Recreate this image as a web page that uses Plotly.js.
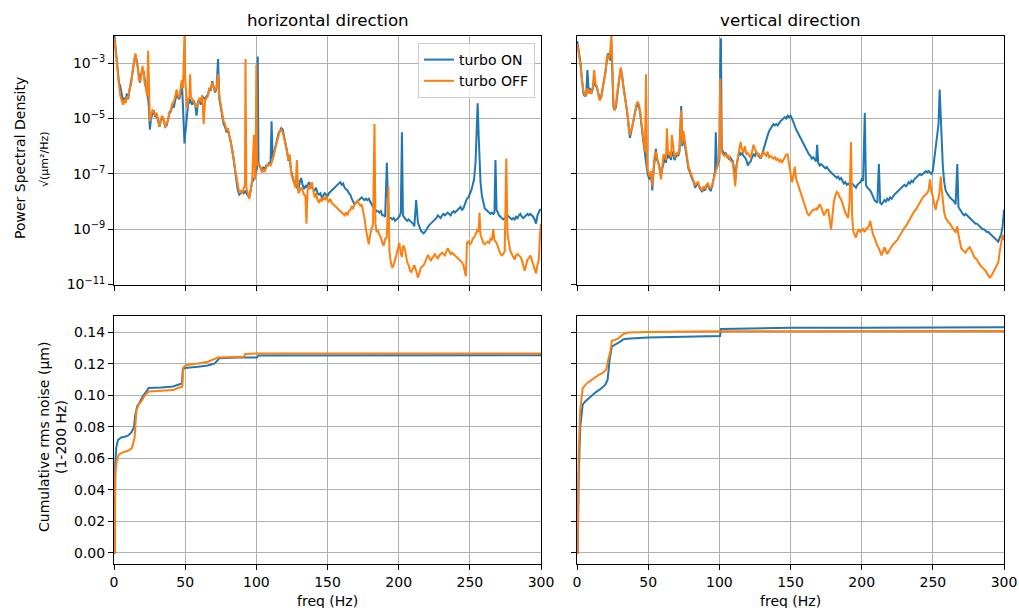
<!DOCTYPE html>
<html>
<head>
<meta charset="utf-8">
<script src="https://cdn.plot.ly/plotly-3.0.1.min.js"></script>
<style>html,body{margin:0;padding:0;background:#fff;}#chart{width:1019px;height:608px;}</style>
</head>
<body>
<div id="chart"></div>
<script>
// ---------- DATA ----------
// PSD values are stored as log10 exponents (value = 10^exp)
const hFreq = [0.3,0.8,1.5,2.5,3.5,4.5,5.5,6.4,7.3,8.2,
 9,10,11,12,13,14,15,16,16.8,17.5,
 18.2,19,20,20.8,21.7,22.5,23.3,24,24.5,25.2,
 26,27,28,29,30,31,32,33,34,35,
 36,37,38,39,40,41,42,43,44,45,
 46,47,47.7,48.5,49,49.5,50,50.6,51.3,52,
 53,53.5,54,55,56,57,58,59,60,61,
 62,63,64,65,66,67,68,69,70,71,
 72,73.1,74,75,76,77,78,79,80,81,
 82,83,84,85,86,87,88,89,90,91,
 92,92.4,93,94,95,96,97,98.3,99,99.5,
 100,100.5,101,101.5,102,103,104,105,106,107,
 108,109,110,110.7,111.5,112.5,113.5,114.5,115.5,116.5,
 117.5,118.5,119.5,120.5,121.5,122.5,123.5,124.5,125.5,126.5,
 127.5,128.5,129.5,130.5,131.5,132.5,133.5,134.5,135.2,136,
 137,138,139,140,141,142,143,144,145,146,
 147,148,149,150,151,152,153,154,155,156,
 157,158,159,160,161,162,163,164,165,166,
 167,168,169,170,171,172,173,174,175,176,
 177,178,179,180,181,182,183,183.7,184.5,185.5,
 186.5,187.5,188.5,189.5,190.5,191.7,192.8,193.5,194.5,195.5,
 196.5,197.5,198.5,199.5,200.5,201.5,202.3,203,204,205,
 206,207,208,209,210,211,212.3,213.5,214.5,215.5,
 216.5,217.5,218.5,219.5,220.5,221.5,222.5,223.5,224.5,225.5,
 226.5,227.5,228.5,229.5,230.5,231.5,232.5,233.5,234.5,235.5,
 236.5,237.5,238.5,239.5,240.5,241.5,242.5,243.5,244.5,245.5,
 246.5,247.2,248,249,250,251,252,253,254,254.8,
 255.5,256.2,256.8,257.5,258.5,259.5,260.5,261.5,262.5,263.5,
 264.5,265.5,266.5,267.3,268,268.8,269.5,270.5,271.5,272.5,
 273.5,274.5,275.6,276.5,277.5,278.5,279.5,280.5,281.5,282.5,
 283.5,284.5,285.5,286.5,287.5,288.5,289.5,290.5,291.5,292.5,
 293.5,294.5,295.5,296.5,297.5,298.5,299.3,300];
const hOnExp = [-2.0,-2.3,-2.8,-3.3,-3.7,-3.85,-4.2,-4.4,-4.25,-4.35,
 -4.1,-4.3,-3.95,-3.7,-3.35,-3.0,-2.7,-2.9,-3.2,-3.5,
 -3.7,-3.45,-3.2,-3.3,-3.75,-3.9,-4.1,-4.3,-4.6,-5.4,
 -5.0,-4.8,-4.7,-4.95,-4.85,-5.1,-5.3,-5.05,-4.95,-5.1,
 -5.3,-5.25,-5.0,-4.8,-4.75,-4.5,-4.6,-4.3,-4.1,-4.25,
 -4.3,-4.0,-3.7,-4.6,-5.5,-5.9,-5.6,-5.3,-4.7,-4.5,
 -4.4,-4.3,-4.4,-4.5,-4.35,-4.5,-4.9,-4.4,-4.3,-4.5,
 -4.2,-4.25,-4.3,-4.2,-4.15,-3.9,-4.0,-3.65,-3.9,-4.05,
 -3.95,-2.85,-4.3,-4.6,-4.8,-5.2,-5.3,-5.5,-5.4,-5.7,
 -5.85,-6.1,-6.5,-6.9,-7.2,-7.6,-7.75,-7.7,-7.6,-7.7,
 -7.65,-7.6,-7.7,-7.8,-7.85,-7.6,-7.3,-7.2,-7.1,-7.0,
 -6.9,-6.8,-2.76,-6.6,-6.7,-6.8,-6.9,-6.75,-6.85,-6.7,
 -6.7,-6.6,-6.6,-5.1,-6.45,-6.2,-6.0,-5.75,-5.55,-5.45,
 -5.35,-5.4,-5.65,-5.8,-6.15,-6.5,-6.5,-6.9,-7.1,-7.3,
 -7.35,-7.5,-7.6,-7.3,-7.15,-7.4,-7.55,-7.45,-7.5,-7.4,
 -7.3,-7.45,-7.5,-7.55,-7.6,-7.5,-7.7,-7.75,-7.7,-7.85,
 -7.8,-7.7,-7.75,-7.8,-7.7,-7.65,-7.6,-7.55,-7.5,-7.45,
 -7.4,-7.35,-7.3,-7.4,-7.35,-7.5,-7.55,-7.6,-7.7,-7.75,
 -7.9,-8.0,-8.1,-8.05,-8.0,-7.95,-7.9,-7.85,-7.9,-7.95,
 -7.9,-7.95,-7.9,-8.0,-8.15,-8.2,-8.25,-8.3,-8.35,-8.35,
 -8.4,-8.35,-8.5,-8.5,-8.55,-6.6,-8.5,-8.6,-8.6,-8.65,
 -8.6,-8.7,-8.65,-8.6,-8.55,-8.4,-5.5,-8.5,-8.6,-8.65,
 -8.7,-8.65,-8.7,-8.75,-8.8,-8.9,-7.95,-8.75,-8.9,-9.05,
 -9.1,-9.15,-9.1,-9.0,-8.9,-8.85,-8.8,-8.75,-8.7,-8.65,
 -8.6,-8.5,-8.55,-8.6,-8.5,-8.45,-8.5,-8.45,-8.4,-8.45,
 -8.5,-8.4,-8.35,-8.4,-8.35,-8.3,-8.25,-8.2,-8.3,-8.25,
 -8.1,-8.0,-7.9,-7.85,-7.75,-7.6,-7.4,-7.2,-6.6,-5.5,
 -4.45,-5.6,-6.5,-7.3,-7.8,-8.1,-8.25,-8.3,-8.35,-8.4,
 -8.45,-8.4,-8.45,-8.4,-6.5,-8.3,-8.4,-8.5,-8.55,-8.6,
 -8.65,-8.6,-8.55,-8.5,-8.55,-8.6,-8.65,-8.6,-8.65,-8.55,
 -8.6,-8.5,-8.45,-8.55,-8.6,-8.55,-8.5,-8.45,-8.5,-8.45,
 -8.5,-8.55,-8.65,-8.8,-8.5,-8.4,-8.3,-8.3];
const hOffExp = [-2.1,-2.4,-2.9,-3.4,-3.8,-4.2,-4.4,-4.5,-4.3,-4.45,
 -4.2,-4.25,-3.9,-3.8,-3.3,-2.95,-2.65,-3.0,-3.15,-3.6,
 -3.65,-3.5,-3.1,-3.35,-3.8,-3.85,-4.2,-2.55,-4.4,-5.1,
 -4.9,-4.7,-4.75,-4.9,-4.8,-5.0,-5.3,-5.0,-4.9,-5.05,
 -5.3,-5.2,-5.05,-4.75,-4.7,-4.45,-4.4,-4.2,-3.95,-4.2,
 -4.25,-3.8,-3.6,-3.9,-3.2,-1.9,-3.5,-4.2,-4.6,-4.3,
 -4.25,-3.4,-4.2,-4.3,-4.4,-4.5,-4.6,-4.4,-4.25,-4.4,
 -4.15,-5.2,-4.35,-4.25,-4.2,-3.9,-3.95,-3.7,-3.85,-4.0,
 -3.9,-3.4,-4.2,-4.6,-4.8,-5.1,-5.2,-5.4,-5.35,-5.6,
 -5.8,-6.2,-6.4,-6.8,-7.1,-7.5,-7.7,-7.6,-7.7,-7.55,
 -7.4,-2.85,-7.5,-7.7,-7.9,-7.6,-7.3,-5.6,-7.2,-6.9,
 -3.06,-6.7,-6.6,-6.7,-6.7,-6.75,-6.95,-6.85,-6.9,-6.75,
 -6.7,-6.65,-6.7,-6.6,-6.5,-6.25,-6.05,-5.8,-5.6,-5.45,
 -5.4,-5.5,-5.7,-5.9,-6.2,-6.5,-6.3,-7.0,-7.15,-7.3,
 -7.5,-6.5,-7.7,-7.6,-7.5,-7.6,-7.75,-7.8,-8.8,-7.6,
 -7.4,-7.55,-7.3,-7.6,-7.85,-7.7,-7.95,-8.05,-7.9,-8.0,
 -7.85,-7.95,-7.8,-7.95,-8.0,-7.9,-8.05,-8.1,-8.15,-8.2,
 -8.25,-8.3,-8.35,-8.4,-8.45,-8.5,-8.4,-8.5,-8.35,-8.3,
 -8.2,-8.25,-8.1,-8.05,-7.95,-8.05,-8.15,-8.1,-8.3,-8.6,
 -9.0,-9.3,-9.55,-9.2,-9.0,-8.8,-5.2,-8.8,-9.1,-9.05,
 -9.2,-9.3,-9.5,-9.6,-9.35,-9.3,-7.45,-9.8,-10.2,-10.4,
 -10.3,-10.1,-9.9,-9.6,-9.5,-9.9,-10.0,-9.6,-9.65,-9.9,
 -10.2,-10.3,-10.5,-10.55,-10.4,-10.3,-10.5,-10.75,-10.6,-10.4,
 -10.35,-10.3,-10.2,-10.1,-9.95,-10.0,-10.15,-10.05,-9.95,-9.9,
 -10.0,-10.05,-9.95,-9.9,-9.85,-9.9,-9.95,-9.8,-9.7,-9.8,
 -9.9,-9.85,-9.9,-9.95,-10.0,-10.05,-10.1,-10.15,-10.2,-10.3,
 -10.5,-10.7,-9.5,-9.45,-9.55,-9.5,-9.35,-9.3,-9.2,-9.1,
 -9.0,-9.1,-8.4,-9.2,-9.4,-9.5,-9.55,-9.5,-9.45,-9.5,
 -9.35,-9.4,-9.0,-9.4,-9.45,-9.5,-9.6,-9.75,-9.9,-9.95,
 -9.9,-9.8,-6.45,-9.2,-9.5,-9.8,-9.9,-10.0,-10.1,-9.95,
 -9.9,-9.95,-10.0,-10.1,-10.3,-10.5,-10.3,-10.1,-10.05,-9.95,
 -10.1,-10.3,-10.5,-10.6,-10.3,-10.1,-9.2,-8.8];

const vFreq = [0.2,0.8,1.5,2.5,3.5,4.5,5.5,6.5,7.3,8.2,
 9,10,11,12,13,14,15,16,17,18,
 19,20,21,21.7,22.5,23.3,24.2,24.9,25.6,26.5,
 27.3,28.2,29,30,30.8,31.6,32.5,33.5,34.5,35.5,
 36.5,37.2,38,39,40,40.8,41.7,42.6,43.5,44.3,
 45.2,46.1,47,47.8,48.5,49.3,50.2,51.1,52,52.9,
 53.8,54.6,55.4,56.3,57.2,58.1,59,60,60.8,61.7,
 62.5,63.2,64,65,66,66.7,67.6,68.5,69.3,70.2,
 71.1,72,73.2,74,74.8,75.7,76.5,77.3,78.2,79,
 80,81,82,83,84,85,86,87,88,89,
 90,91,92,93,94,95,96,97,97.5,98.3,
 99.2,100,100.6,101.1,101.7,102.5,103.5,104.5,105.5,106.5,
 107.5,108.5,109.5,110.5,111.2,112,113,114,115,116,
 117,118,119,120,121,122,123,124,125,126,
 127,128,129,130,131,132,133,134,135,136,
 137,138,139,140,141,142,143,144,145,146,
 147,148,149,150,151,152,153,154,155,156,
 157,158,159,160,161,162,163,164,165,166,
 167,168,168.7,169.5,170.5,171.5,172.5,173.5,174.5,175.5,
 176.5,177.5,178.5,179.5,180.5,181.5,182.5,183.5,184.5,185.5,
 186.5,187.5,188.5,189.5,190.5,191.5,192.5,193.3,194,195,
 196,197,198,199,200,201,202.2,203,204,205,
 206,207,208,209,210,211,212.1,213,214,215,
 216,217,218,219,220,221,222,223,224,225,
 226,227,228,229,230,231,232,233,234,235,
 236,237,238,239,240,241,242,243,244,245,
 246,247,248,249,250,251,252,253,254,254.8,
 255.6,256.3,257,258,259,260,261,262,263,264,
 265,266,267.2,268,269,270,271,272,273,274,
 275,276,277,278,279,280,281,282,283,284,
 285,286,287,288,289,290,291,292,293,294,
 295,296,297,298,299,300];
const vOnExp = [-2.2,-2.4,-2.6,-3.0,-3.6,-4.1,-4.2,-4.1,-3.25,-4.0,
 -3.9,-4.1,-3.95,-3.6,-3.8,-3.9,-4.1,-4.3,-4.2,-3.9,
 -3.7,-3.3,-2.9,-2.65,-2.75,-2.9,-2.3,-3.9,-4.6,-4.7,
 -4.6,-4.2,-3.8,-3.45,-3.2,-3.4,-3.8,-4.1,-4.5,-4.9,
 -5.4,-5.7,-5.5,-5.3,-5.0,-4.75,-4.6,-4.4,-4.6,-4.75,
 -5.2,-5.7,-6.0,-6.3,-6.6,-6.9,-7.1,-7.2,-7.0,-7.6,
 -6.9,-6.4,-6.1,-6.5,-6.6,-6.8,-7.1,-6.8,-6.6,-6.4,
 -6.6,-6.3,-6.4,-6.35,-6.5,-6.2,-6.3,-6.5,-6.4,-6.3,
 -6.35,-6.2,-4.55,-6.0,-5.7,-5.9,-6.2,-6.5,-6.8,-6.9,
 -7.1,-7.2,-7.3,-7.5,-7.4,-7.35,-7.5,-7.6,-7.65,-7.5,
 -7.6,-7.45,-7.4,-7.55,-7.6,-7.45,-7.2,-6.9,-5.5,-6.8,
 -6.6,-6.5,-3.2,-2.1,-6.1,-6.2,-6.3,-6.25,-6.35,-6.45,
 -6.4,-6.5,-6.55,-6.9,-7.2,-6.7,-6.4,-6.2,-6.3,-6.25,
 -6.35,-6.4,-6.5,-6.7,-6.6,-6.55,-6.4,-6.3,-6.35,-6.2,
 -6.3,-6.4,-6.45,-6.3,-6.1,-5.95,-5.75,-5.6,-5.45,-5.35,
 -5.25,-5.2,-5.25,-5.2,-5.25,-5.15,-5.1,-5.05,-5.0,-4.95,
 -5.0,-4.9,-4.95,-4.9,-5.0,-5.15,-5.3,-5.4,-5.5,-5.6,
 -5.75,-5.8,-5.9,-6.0,-6.1,-6.2,-6.3,-6.35,-6.45,-6.4,
 -6.5,-6.55,-5.95,-6.6,-6.7,-6.65,-6.7,-6.75,-6.8,-6.75,
 -6.85,-6.9,-6.95,-7.0,-7.05,-7.1,-7.15,-7.1,-7.2,-7.15,
 -7.25,-7.35,-7.3,-7.4,-7.35,-7.4,-7.3,-7.35,-7.4,-7.45,
 -7.5,-7.4,-7.35,-7.3,-7.2,-7.25,-4.8,-7.4,-7.5,-7.55,
 -7.6,-7.7,-7.85,-7.95,-8.0,-8.05,-6.65,-8.05,-8.1,-8.0,
 -7.95,-8.0,-7.9,-7.95,-7.85,-7.9,-7.8,-7.75,-7.7,-7.65,
 -7.6,-7.55,-7.5,-7.45,-7.4,-7.45,-7.4,-7.3,-7.35,-7.25,
 -7.3,-7.2,-7.15,-7.1,-7.05,-7.0,-7.05,-7.0,-6.95,-6.9,
 -6.95,-6.9,-6.95,-7.0,-6.9,-6.5,-6.1,-5.7,-5.2,-3.95,
 -4.9,-5.9,-6.7,-7.3,-7.6,-7.7,-7.8,-7.85,-7.9,-7.95,
 -8.0,-8.1,-6.65,-8.2,-8.3,-8.4,-8.45,-8.5,-8.45,-8.5,
 -8.55,-8.6,-8.65,-8.7,-8.75,-8.8,-8.8,-8.85,-8.9,-8.95,
 -9.0,-9.0,-9.05,-9.1,-9.1,-9.15,-9.2,-9.25,-9.3,-9.35,
 -9.4,-9.45,-9.3,-9.2,-8.9,-8.3];
const vOffExp = [-2.3,-2.5,-2.7,-3.1,-3.6,-4.0,-4.15,-4.2,-3.9,-4.1,
 -4.0,-4.05,-3.9,-3.25,-3.75,-3.85,-4.15,-4.35,-4.25,-3.9,
 -3.6,-3.35,-2.8,-2.7,-2.85,-2.6,-1.95,-3.8,-4.5,-4.7,
 -4.5,-4.1,-3.75,-3.4,-3.15,-3.5,-3.75,-4.15,-4.5,-4.85,
 -5.4,-5.6,-5.4,-5.3,-4.95,-4.8,-4.5,-4.4,-4.5,-4.7,
 -5.1,-5.6,-5.9,-6.2,-3.4,-6.8,-7.0,-7.1,-6.9,-7.45,
 -6.8,-6.3,-6.2,-6.4,-6.55,-6.85,-7.2,-6.7,-6.3,-6.35,
 -6.5,-5.35,-6.3,-6.25,-6.4,-5.6,-6.1,-6.4,-6.3,-6.25,
 -6.3,-6.1,-4.7,-5.9,-5.45,-5.8,-6.1,-6.4,-6.7,-6.85,
 -7.0,-7.15,-7.25,-7.4,-7.35,-7.3,-7.45,-7.55,-7.6,-7.45,
 -7.55,-7.4,-7.35,-7.5,-7.5,-7.4,-7.15,-7.0,-6.9,-6.75,
 -6.55,-6.4,-3.55,-5.8,-6.2,-6.3,-6.35,-6.3,-6.4,-6.35,
 -6.5,-6.55,-6.6,-7.1,-7.45,-6.8,-6.4,-6.1,-5.85,-6.15,
 -6.2,-6.0,-6.3,-6.25,-6.35,-6.4,-6.2,-5.95,-6.1,-6.25,
 -6.35,-6.3,-6.4,-6.35,-6.2,-6.3,-6.35,-6.2,-6.4,-6.35,
 -6.4,-6.45,-6.4,-6.5,-6.45,-6.55,-6.5,-6.6,-6.5,-6.4,
 -6.3,-6.3,-6.6,-6.95,-7.3,-7.1,-6.75,-7.2,-7.4,-7.5,
 -7.65,-7.8,-8.0,-8.15,-8.3,-8.45,-8.5,-8.4,-8.35,-8.3,
 -8.3,-8.25,-8.3,-8.2,-8.1,-8.2,-8.35,-8.5,-8.4,-8.3,
 -8.3,-8.6,-9.0,-8.5,-8.0,-7.8,-7.65,-7.7,-7.85,-7.9,
 -8.1,-8.3,-8.4,-8.5,-8.6,-8.0,-5.85,-8.5,-9.05,-9.2,
 -9.3,-9.1,-9.0,-9.1,-9.05,-9.0,-9.1,-9.0,-8.95,-8.9,
 -8.7,-9.0,-9.2,-9.3,-9.5,-9.6,-9.7,-9.85,-9.95,-9.8,
 -9.65,-9.8,-9.9,-9.8,-9.7,-9.6,-9.55,-9.5,-9.45,-9.4,
 -9.3,-9.2,-9.15,-9.0,-8.95,-8.9,-8.8,-8.7,-8.6,-8.55,
 -8.4,-8.35,-8.3,-8.2,-8.1,-8.0,-7.9,-7.85,-7.8,-7.75,
 -7.7,-7.6,-7.2,-7.65,-7.8,-8.1,-8.3,-8.0,-7.9,-7.6,
 -7.1,-7.6,-8.0,-8.4,-8.6,-8.7,-8.75,-8.8,-8.9,-9.0,
 -9.05,-9.1,-8.9,-9.2,-9.5,-9.7,-9.75,-9.8,-9.85,-9.75,
 -9.7,-9.65,-9.75,-9.9,-10.0,-10.05,-10.1,-10.2,-10.3,-10.35,
 -10.4,-10.45,-10.5,-10.6,-10.7,-10.75,-10.7,-10.6,-10.5,-10.4,
 -10.3,-10.2,-9.8,-9.5,-9.2,-9.4];

// cumulative rms noise (µm)
const cumHOnFreq  = [0,0.5,0.9,1.6,2.8,5.1,7.5,9.8,12.2,14,15,16.4,18,20.4,22.7,24.3,33.2,41.4,45,47.7,48.4,49.6,59,66,70.7,74.2,87,100.4,101.6,150,200,250,300];
const cumHOn      = [0,0,0.0563,0.067,0.0716,0.0733,0.0737,0.0744,0.0765,0.0797,0.088,0.0934,0.0955,0.0998,0.1025,0.1047,0.1051,0.1057,0.1068,0.1076,0.1167,0.1174,0.1182,0.119,0.1203,0.1237,0.1241,0.1241,0.1254,0.1255,0.1255,0.1256,0.1256];
const cumHOffFreq = [0,0.5,0.9,1.9,3.3,6.3,9.8,12.6,14.5,15.7,17.3,19.2,21.5,24.3,33.2,41.4,45,48,48.7,50.8,59,66,73,91.3,92.2,101,150,200,250,300];
const cumHOff     = [0,0,0.05,0.0585,0.0623,0.0638,0.0648,0.0665,0.0733,0.0903,0.0941,0.0962,0.0998,0.1025,0.103,0.1034,0.1047,0.1055,0.1178,0.1193,0.1203,0.1214,0.1241,0.1246,0.1263,0.1267,0.1267,0.1267,0.1267,0.1267];
const cumVOnFreq  = [0,0.5,1.2,2.3,4,5.8,9.3,12.9,16.4,19.9,21.5,22.9,24.5,28,30.4,32.7,37.4,50,65.4,98.1,100.5,101.2,150,200,250,300];
const cumVOn      = [0,0,0.0486,0.0803,0.0941,0.0962,0.099,0.1019,0.104,0.1068,0.11,0.1226,0.1311,0.1328,0.1342,0.1357,0.1362,0.1368,0.137,0.1376,0.1378,0.1423,0.143,0.1431,0.1432,0.1433];
const cumVOffFreq = [0,0.5,1.2,2.3,4,7,10.5,15.2,18.7,20.6,22.2,23.4,24.5,26.9,29.2,32.7,36.2,50,100.5,159,300];
const cumVOff     = [0,0,0.0655,0.0909,0.1046,0.1078,0.11,0.1131,0.1146,0.1167,0.1237,0.1279,0.1349,0.1353,0.1364,0.1391,0.14,0.1404,0.1408,0.1409,0.141];

const seriesNames = ['turbo ON', 'turbo OFF'];
const panelTitles = ['horizontal direction', 'vertical direction'];
const xTicks = [0, 50, 100, 150, 200, 250, 300];
const psdTickExp = [-11, -9, -7, -5, -3];
const cumTicks = [0, 0.02, 0.04, 0.06, 0.08, 0.10, 0.12, 0.14];

// ---------- STYLE ----------
const BLUE = '#1f77b4', ORANGE = '#ff7f0e';
const FONT = 'DejaVu Sans, Liberation Sans, sans-serif';
const pow10 = a => a.map(e => Math.pow(10, e));

function line(x, y, color, name, xa, ya, show) {
  return {x: x, y: y, type: 'scatter', mode: 'lines', name: name,
    line: {color: color, width: 2}, xaxis: xa, yaxis: ya,
    showlegend: show, hoverinfo: 'skip'};
}

const traces = [
  line(hFreq, pow10(hOnExp), BLUE, seriesNames[0], 'x', 'y', true),
  line(hFreq, pow10(hOffExp), ORANGE, seriesNames[1], 'x', 'y', true),
  line(vFreq, pow10(vOnExp), BLUE, seriesNames[0], 'x2', 'y2', false),
  line(vFreq, pow10(vOffExp), ORANGE, seriesNames[1], 'x2', 'y2', false),
  line(cumHOnFreq, cumHOn, BLUE, seriesNames[0], 'x3', 'y3', false),
  line(cumHOffFreq, cumHOff, ORANGE, seriesNames[1], 'x3', 'y3', false),
  line(cumVOnFreq, cumVOn, BLUE, seriesNames[0], 'x4', 'y4', false),
  line(cumVOffFreq, cumVOff, ORANGE, seriesNames[1], 'x4', 'y4', false)
];

const W = 1019, H = 608;
const px = v => v / W, py = v => 1 - v / H;
const colL = [px(114), px(541)], colR = [px(577), px(1004)];
const rowT = [py(284.5), py(35.5)], rowB = [py(564), py(316)];

function baseAxis(extra) {
  return Object.assign({
    showline: true, mirror: true, linecolor: '#000', linewidth: 1,
    ticks: 'outside', ticklen: 5, tickwidth: 1, tickcolor: '#000',
    showgrid: true, gridcolor: '#b0b0b0', gridwidth: 1, zeroline: false,
    tickfont: {family: FONT, size: 14, color: '#000'}, fixedrange: true
  }, extra);
}
const xCommon = {range: [0, 300], tickmode: 'array', tickvals: xTicks, ticktext: xTicks.map(String)};
const psdY = {type: 'log', range: [-11, -2], tickmode: 'array',
  tickvals: psdTickExp.map(e => Math.pow(10, e)),
  ticktext: psdTickExp.map(e => '10<sup>\u2212' + Math.abs(e) + '</sup>')};
const cumY = {range: [-0.0072, 0.1505], tickmode: 'array', tickvals: cumTicks,
  ticktext: cumTicks.map(v => v.toFixed(2))};

const layout = {
  width: W, height: H, margin: {l: 0, r: 0, t: 0, b: 0},
  paper_bgcolor: '#fff', plot_bgcolor: '#fff',
  font: {family: FONT, size: 14, color: '#000'},
  xaxis:  baseAxis(Object.assign({domain: colL, anchor: 'y',  showticklabels: false}, xCommon)),
  xaxis2: baseAxis(Object.assign({domain: colR, anchor: 'y2', showticklabels: false}, xCommon)),
  xaxis3: baseAxis(Object.assign({domain: colL, anchor: 'y3'}, xCommon)),
  xaxis4: baseAxis(Object.assign({domain: colR, anchor: 'y4'}, xCommon)),
  yaxis:  baseAxis(Object.assign({domain: rowT, anchor: 'x'}, psdY)),
  yaxis2: baseAxis(Object.assign({domain: rowT, anchor: 'x2', showticklabels: false}, psdY)),
  yaxis3: baseAxis(Object.assign({domain: rowB, anchor: 'x3'}, cumY)),
  yaxis4: baseAxis(Object.assign({domain: rowB, anchor: 'x4', showticklabels: false}, cumY)),
  showlegend: true,
  legend: {x: px(535), xanchor: 'right', y: py(43), yanchor: 'top',
    bgcolor: 'rgba(255,255,255,0.8)', bordercolor: '#cccccc', borderwidth: 1,
    font: {family: FONT, size: 14, color: '#000'}, tracegroupgap: 0},
  annotations: [
    {text: panelTitles[0], xref: 'paper', yref: 'paper', x: px(327.5), y: py(20), showarrow: false,
      font: {family: FONT, size: 16.7, color: '#000'}, xanchor: 'center', yanchor: 'middle'},
    {text: panelTitles[1], xref: 'paper', yref: 'paper', x: px(790.5), y: py(20), showarrow: false,
      font: {family: FONT, size: 16.7, color: '#000'}, xanchor: 'center', yanchor: 'middle'},
    {text: 'freq (Hz)', xref: 'paper', yref: 'paper', x: px(327.5), y: py(601), showarrow: false,
      font: {family: FONT, size: 14, color: '#000'}, xanchor: 'center', yanchor: 'middle'},
    {text: 'freq (Hz)', xref: 'paper', yref: 'paper', x: px(790.5), y: py(601), showarrow: false,
      font: {family: FONT, size: 14, color: '#000'}, xanchor: 'center', yanchor: 'middle'},
    {text: 'Power Spectral Density', xref: 'paper', yref: 'paper', x: px(20), y: py(158), showarrow: false,
      textangle: -90, font: {family: FONT, size: 14, color: '#000'}, xanchor: 'center', yanchor: 'middle'},
    {text: '\u221A(\u03BCm\u00B2/Hz)', xref: 'paper', yref: 'paper', x: px(45), y: py(160), showarrow: false,
      textangle: -90, font: {family: FONT, size: 11, color: '#000'}, xanchor: 'center', yanchor: 'middle'},
    {text: 'Cumulative rms noise (\u03BCm)', xref: 'paper', yref: 'paper', x: px(44), y: py(437), showarrow: false,
      textangle: -90, font: {family: FONT, size: 14, color: '#000'}, xanchor: 'center', yanchor: 'middle'},
    {text: '(1-200 Hz)', xref: 'paper', yref: 'paper', x: px(61), y: py(437), showarrow: false,
      textangle: -90, font: {family: FONT, size: 14, color: '#000'}, xanchor: 'center', yanchor: 'middle'}
  ]
};

Plotly.newPlot('chart', traces, layout, {displayModeBar: false, staticPlot: true});
</script>
</body>
</html>
